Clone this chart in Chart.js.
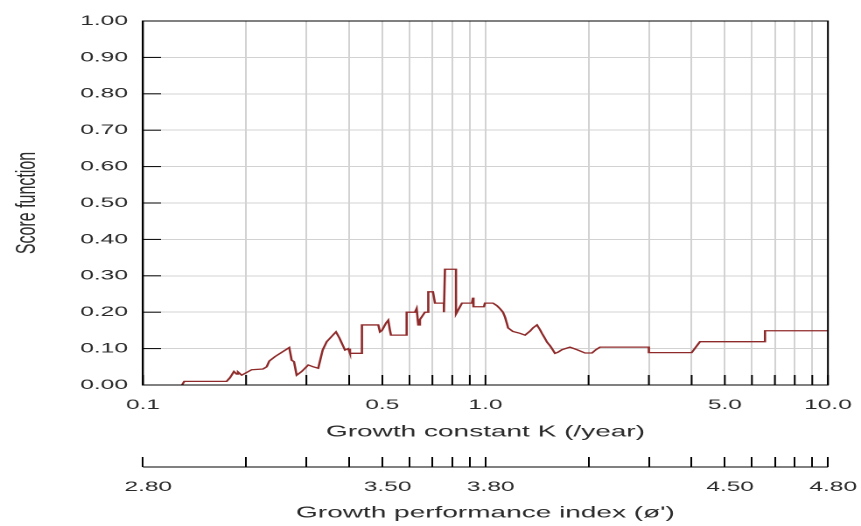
<!DOCTYPE html>
<html>
<head>
<meta charset="utf-8">
<script src="https://cdn.jsdelivr.net/npm/chart.js@4.4.1/dist/chart.umd.min.js"></script>
<style>
  html, body { margin: 0; padding: 0; background: #fff; overflow: hidden; }
  #wrap { position: absolute; left: 0; top: 0; width: 492px; height: 526px; transform: scaleX(1.75); transform-origin: 0 0; }
</style>
</head>
<body>
<div id="wrap"><canvas id="c" width="492" height="526"></canvas></div>
<script>
// Growth constant K (/year) and score function values
const kValues = [0.130, 0.132, 0.1755, 0.1795, 0.1843, 0.1877, 0.1894, 0.1942, 0.2077, 0.2241,
  0.2297, 0.2338, 0.2429, 0.2674, 0.2717, 0.2760, 0.2810, 0.2906, 0.3038, 0.3142,
  0.3249, 0.3347, 0.3439, 0.3660, 0.3742, 0.3889, 0.3976, 0.4022, 0.4358, 0.4358,
  0.4864, 0.4920, 0.4986, 0.5123, 0.5202, 0.5262, 0.5298, 0.5886, 0.5886, 0.6226,
  0.6296, 0.6365, 0.6438, 0.6658, 0.6808, 0.6808, 0.7026, 0.7121, 0.7563, 0.7563,
  0.7615, 0.8202, 0.8202, 0.8312, 0.8540, 0.9133, 0.9194, 0.9226, 0.990, 0.9966,
  1.052, 1.080, 1.102, 1.125, 1.140, 1.156, 1.164, 1.203, 1.261, 1.305,
  1.349, 1.377, 1.414, 1.443, 1.462, 1.492, 1.512, 1.543, 1.564, 1.596,
  1.628, 1.673, 1.765, 1.850, 1.953, 2.047, 2.102, 2.160, 3.00, 3.00,
  4.00, 4.23, 6.55, 6.55, 10.0];
const scoreValues = [0.000, 0.010, 0.010, 0.020, 0.037, 0.030, 0.036, 0.027, 0.042, 0.044,
  0.050, 0.066, 0.078, 0.103, 0.068, 0.064, 0.027, 0.037, 0.055, 0.050,
  0.046, 0.096, 0.119, 0.146, 0.130, 0.096, 0.100, 0.087, 0.087, 0.165,
  0.165, 0.146, 0.150, 0.170, 0.178, 0.150, 0.137, 0.137, 0.200, 0.200,
  0.210, 0.165, 0.180, 0.200, 0.200, 0.256, 0.256, 0.225, 0.225, 0.200,
  0.318, 0.318, 0.195, 0.205, 0.225, 0.225, 0.240, 0.215, 0.215, 0.225,
  0.225, 0.218, 0.210, 0.200, 0.187, 0.168, 0.157, 0.147, 0.142, 0.137,
  0.148, 0.157, 0.165, 0.152, 0.142, 0.128, 0.118, 0.108, 0.100, 0.087,
  0.090, 0.097, 0.104, 0.097, 0.088, 0.088, 0.097, 0.104, 0.104, 0.089,
  0.089, 0.119, 0.119, 0.149, 0.149];

// Axis ticks and labels
const kGridTicks = [0.1, 0.2, 0.3, 0.4, 0.5, 0.6, 0.7, 0.8, 0.9, 1, 2, 3, 4, 5, 6, 7, 8, 9, 10];
const kLabelValues = [0.1, 0.5, 1, 5, 10];
const kLabels = ['0.1', '0.5', '1.0', '5.0', '10.0'];
const phiLabels = ['2.80', '3.50', '3.80', '4.50', '4.80'];
const yTickLabels = ['0.00','0.10','0.20','0.30','0.40','0.50','0.60','0.70','0.80','0.90','1.00'];

const FONT = "'Liberation Sans', Arial, sans-serif";
const TEXT = '#2a2a2a';
const GRID = '#d2d2d2';

function labelFor(list, v) {
  for (let i = 0; i < kLabelValues.length; i++) {
    if (Math.abs(kLabelValues[i] - v) < 1e-9) return list[i];
  }
  return '';
}

const framePlugin = {
  id: 'frame',
  afterDraw(chart) {
    const { ctx, chartArea: a, scales } = chart;
    ctx.save();
    ctx.strokeStyle = '#000';
    ctx.lineWidth = 1;
    scales.y.ticks.forEach(t => {
      const py = scales.y.getPixelForValue(t.value);
      ctx.beginPath(); ctx.moveTo(a.left, py); ctx.lineTo(a.left + 10.3, py); ctx.stroke();
    });
    scales.x.ticks.forEach(t => {
      const px = scales.x.getPixelForValue(t.value);
      ctx.beginPath(); ctx.moveTo(px, a.bottom); ctx.lineTo(px, a.bottom - 10); ctx.stroke();
    });
    const s2 = scales.x2;
    const ly = s2.top + 10;
    ctx.beginPath(); ctx.moveTo(s2.left, ly); ctx.lineTo(s2.right, ly); ctx.stroke();
    ctx.strokeRect(a.left, a.top, a.right - a.left, a.bottom - a.top);
    ctx.restore();
  }
};

Chart.defaults.font.family = FONT;
Chart.defaults.color = TEXT;

new Chart(document.getElementById('c'), {
  type: 'line',
  data: {
    datasets: [{
      data: kValues.map((k, i) => ({ x: k, y: scoreValues[i] })),
      borderColor: '#8f2a2a',
      borderWidth: 1.3,
      pointRadius: 0,
      tension: 0,
      fill: false,
      xAxisID: 'x',
      yAxisID: 'y'
    }]
  },
  options: {
    responsive: false,
    devicePixelRatio: 2,
    animation: false,
    layout: { padding: { top: 21, right: 18.9, left: 0, bottom: 0 } },
    plugins: { legend: { display: false }, tooltip: { enabled: false } },
    scales: {
      x: {
        type: 'logarithmic',
        position: 'bottom',
        weight: 0,
        min: 0.1,
        max: 10,
        afterBuildTicks: s => { s.ticks = kGridTicks.map(v => ({ value: v })); },
        afterFit: s => { s.height = 72; s.paddingLeft = 0; s.paddingRight = 0; },
        grid: { color: GRID, lineWidth: 1, drawTicks: false },
        border: { display: true, color: '#000', width: 1 },
        ticks: {
          autoSkip: false, maxRotation: 0, minRotation: 0, padding: 11.6,
          font: { size: 14, family: FONT }, color: TEXT,
          callback: v => labelFor(kLabels, v)
        },
        title: {
          display: true, text: 'Growth constant K (/year)',
          font: { size: 16, family: FONT }, color: TEXT,
          padding: { top: 0, bottom: 15.4 }
        }
      },
      x2: {
        type: 'logarithmic',
        position: 'bottom',
        weight: 1,
        display: true,
        min: 0.1,
        max: 10,
        afterBuildTicks: s => { s.ticks = kGridTicks.map(v => ({ value: v })); },
        afterFit: s => { s.height = 69; s.paddingLeft = 0; s.paddingRight = 0; },
        grid: { drawOnChartArea: false, drawTicks: true, tickLength: 10, color: '#000', lineWidth: 1 },
        border: { display: false },
        ticks: {
          autoSkip: false, maxRotation: 0, minRotation: 0, padding: 11.6, labelOffset: 3,
          font: { size: 14, family: FONT }, color: TEXT,
          callback: v => labelFor(phiLabels, v)
        },
        title: {
          display: true, text: "Growth performance index (ø')",
          font: { size: 16, family: FONT }, color: TEXT,
          padding: { top: 0, bottom: 3.4 }
        }
      },
      y: {
        type: 'linear',
        position: 'left',
        min: 0,
        max: 1,
        afterFit: s => { s.width = 81.7; },
        grid: { color: GRID, lineWidth: 1, drawTicks: false },
        border: { display: true, color: '#000', width: 1 },
        ticks: {
          stepSize: 0.1, padding: 8.6,
          font: { size: 14, family: FONT }, color: TEXT,
          callback: v => yTickLabels[Math.round(v * 10)]
        },
        title: {
          display: true, text: 'Score function',
          font: { size: 16, family: FONT }, color: TEXT,
          padding: { top: 5.8, bottom: 0 }
        }
      }
    }
  },
  plugins: [framePlugin]
});
</script>
</body>
</html>
